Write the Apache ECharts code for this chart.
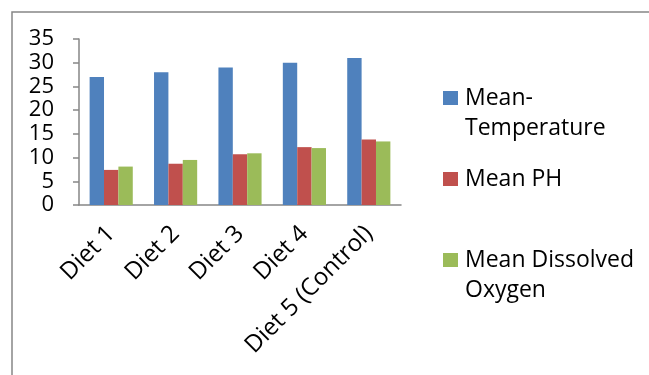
<!DOCTYPE html>
<html><head><meta charset="utf-8">
<script src="https://cdn.jsdelivr.net/npm/echarts@6/dist/echarts.min.js"></script>
<style>html,body{margin:0;padding:0;background:#fff}#c{width:649px;height:375px}</style>
</head><body><div id="c"></div>
<script>
var categories = ['Diet 1', 'Diet 2', 'Diet 3', 'Diet 4', 'Diet 5 (Control)'];
var meanTemperature = [27, 28, 29, 30, 31];
var meanPH = [7.4, 8.7, 10.7, 12.2, 13.8];
var meanDO = [8.1, 9.5, 10.9, 12, 13.4];
var yTicks = [0, 5, 10, 15, 20, 25, 30, 35];
var seriesNames = ['Mean-\nTemperature', 'Mean PH', 'Mean Dissolved\nOxygen'];
var colors = ['#4F81BD', '#C0504D', '#9BBB59'];

var FONT = '"Open Sans"';
var LH = 30;
var chart = echarts.init(document.getElementById('c'), null, {renderer: 'canvas'});
function leg(name, iconCenter) {
  var multi = name.indexOf('\n') >= 0;
  var h = multi ? 3 * LH : LH;
  return {
    data: [name], left: 443, top: iconCenter - h / 2, orient: 'vertical',
    itemWidth: 15, itemHeight: 14, itemGap: 0, padding: 0,
    icon: 'rect', selectedMode: false,
    formatter: function (n) { return n.indexOf('\n') >= 0 ? '\n' + n : n; },
    textStyle: {fontFamily: FONT, fontSize: 23, color: '#000', lineHeight: LH, padding: [0, 0, 0, 2]}
  };
}
chart.setOption({
  animation: false,
  backgroundColor: '#fff',
  color: colors,
  graphic: [{type: 'rect', left: 9.5, top: 9.5, shape: {x: 0, y: 0, width: 800, height: 500},
    style: {fill: 'none', stroke: '#868686', lineWidth: 1.5}, silent: true, z: -10}],
  grid: {left: 79, right: 248, top: 39, bottom: 170, containLabel: false},
  legend: [leg(seriesNames[0], 98), leg(seriesNames[1], 179), leg(seriesNames[2], 260)],
  xAxis: {
    type: 'category', data: categories,
    axisLine: {lineStyle: {color: '#868686', width: 1.5}},
    axisTick: {length: 6, lineStyle: {color: '#868686', width: 1.5}},
    axisLabel: {rotate: 45, margin: 25, fontFamily: FONT, fontSize: 24, color: '#000', interval: 0}
  },
  yAxis: {
    type: 'value', min: 0, max: 35, interval: 5,
    axisLine: {show: true, lineStyle: {color: '#868686', width: 1.5}},
    axisTick: {show: true, length: 6, lineStyle: {color: '#868686', width: 1.5}},
    splitLine: {show: false},
    axisLabel: {margin: 25, fontFamily: FONT, fontSize: 22, color: '#000',
      formatter: function (v) { return yTicks.indexOf(v) >= 0 ? String(v) : ''; }}
  },
  series: [
    {name: seriesNames[0], type: 'bar', data: meanTemperature, barGap: '0%', barCategoryGap: '33%'},
    {name: seriesNames[1], type: 'bar', data: meanPH, barGap: '0%', barCategoryGap: '33%'},
    {name: seriesNames[2], type: 'bar', data: meanDO, barGap: '0%', barCategoryGap: '33%'}
  ]
});
</script></body></html>
